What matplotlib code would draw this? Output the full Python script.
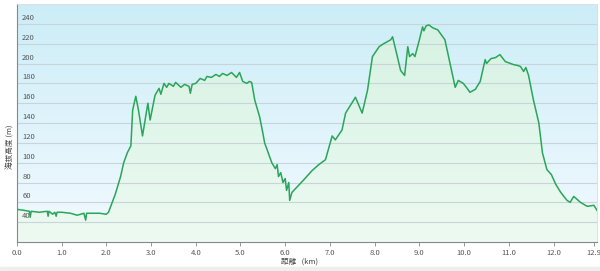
import numpy as np
import matplotlib.pyplot as plt
from matplotlib.patches import Rectangle

plt.rcParams['font.family'] = ['Noto Sans CJK JP', 'DejaVu Sans']

# distance (km) and elevation (m)
dist = [0.0, 0.15, 0.28, 0.3, 0.32, 0.5, 0.68, 0.7, 0.72, 0.8, 0.85, 0.88, 0.9, 1.0, 1.2, 1.35, 1.5,
        1.54, 1.56, 1.7, 1.85, 2.0, 2.05, 2.2, 2.32, 2.39, 2.47, 2.55, 2.59, 2.66, 2.72, 2.81, 2.93, 2.98,
        3.09, 3.18, 3.22, 3.29, 3.35, 3.4, 3.5, 3.55, 3.67, 3.75, 3.85, 3.88, 3.92, 4.0, 4.1, 4.2, 4.25,
        4.35, 4.45, 4.53, 4.6, 4.7, 4.8, 4.91, 4.98, 5.05, 5.14, 5.2, 5.25, 5.32, 5.43,
        5.5, 5.54, 5.7, 5.78, 5.82, 5.85, 5.9, 5.95, 6.0, 6.03, 6.08, 6.1, 6.15, 6.4, 6.6, 6.75, 6.9,
        7.05, 7.12, 7.27, 7.35, 7.57, 7.72, 7.84, 7.95, 8.1, 8.2, 8.36, 8.4, 8.47, 8.58, 8.67, 8.74,
        8.78, 8.85, 8.9, 9.0, 9.07, 9.1, 9.15, 9.21, 9.3, 9.41,
        9.57, 9.7, 9.8, 9.87, 9.98, 10.05, 10.13, 10.25, 10.36, 10.47, 10.5, 10.6, 10.7, 10.8, 10.92,
        11.1, 11.2, 11.26, 11.33, 11.38, 11.44, 11.55, 11.67, 11.75, 11.85, 11.95, 12.05, 12.16, 12.3,
        12.37, 12.45, 12.5, 12.6, 12.75, 12.9, 12.97]
elev = [53, 52, 51, 45, 51, 50, 51, 46, 51, 48, 50, 46, 50, 50, 49, 47, 49,
        42, 49, 49, 49, 48, 50, 68, 86, 100, 110, 117, 153, 167, 153, 127, 160, 143,
        168, 175, 169, 180, 176, 180, 177, 181, 176, 179, 177, 170, 179, 180, 185, 183, 187,
        186, 189, 187, 190, 188, 191, 186, 191, 182, 180, 182, 181, 163, 146,
        130, 120, 100, 94, 98, 86, 90, 80, 84, 72, 80, 62, 70, 82, 92, 98, 103,
        127, 123, 133, 150, 166, 150, 173, 207, 217, 220, 224, 227, 214, 193, 188, 217,
        207, 210, 207, 224, 237, 233, 238, 239, 236, 234,
        224, 197, 176, 183, 180, 176, 171, 174, 182, 204, 200, 205, 206, 209, 202,
        199, 198, 197, 192, 196, 188, 163, 140, 110, 93, 88, 78, 70, 62,
        60, 66, 64, 60, 56, 57, 52]

xticks = [0, 1, 2, 3, 4, 5, 6, 7, 8, 9, 10, 11, 12, 12.9]
yticks = [40, 60, 80, 100, 120, 140, 160, 180, 200, 220, 240]

fig = plt.figure(figsize=(6, 2.71), dpi=100)
fig.patches.append(Rectangle((0, 0), 1, 0.016, transform=fig.transFigure, color='#eeeeee'))
ax = fig.add_axes([0.028, 0.107, 0.967, 0.878])
ax.set_xlim(0, 12.97)
ax.set_ylim(20, 260)

# sky gradient background
grad = np.linspace(0, 1, 256).reshape(-1, 1)
top = np.array([0.80, 0.93, 0.97])
bot = np.array([0.95, 0.98, 1.0])
bg = bot + (top - bot) * grad
ax.imshow(bg[:, None, :].repeat(2, axis=1), extent=[0, 12.97, 20, 260], origin='lower',
          aspect='auto', zorder=0)

# green gradient under the line
fill = ax.fill_between(dist, elev, 20, color='none', zorder=1)
gtop = np.array([0.84, 0.95, 0.89])
gbot = np.array([0.93, 0.98, 0.95])
gimg = gbot + (gtop - gbot) * grad
im = ax.imshow(gimg[:, None, :].repeat(2, axis=1), extent=[0, 12.97, 20, 240], origin='lower',
               aspect='auto', zorder=1)
im.set_clip_path(fill.get_paths()[0], transform=ax.transData)

for y in yticks:
    ax.axhline(y, color='#c8d4da', lw=0.8, zorder=2)
    ax.text(0.12, y + 2, str(y), fontsize=5.5, color='#555555', va='bottom', ha='left', zorder=3)

ax.plot(dist, elev, color='#2aa55a', lw=1.1, zorder=4)

ax.set_yticks([])
ax.set_xticks(xticks)
ax.set_xticklabels(['%.1f' % t for t in xticks], fontsize=5.5, color='#555555')
ax.tick_params(axis='x', length=3, width=0.6, color='#888888', pad=2)
for s in ['top', 'right']:
    ax.spines[s].set_color('#dddddd')
    ax.spines[s].set_linewidth(0.6)
for s in ['left', 'bottom']:
    ax.spines[s].set_color('#888888')
    ax.spines[s].set_linewidth(0.8)

fig.text(0.017, 0.46, '海拔高度 (m)', rotation=90, fontsize=5.5, color='#444444',
         ha='center', va='center')
fig.text(0.5, 0.033, '距離   (km)', fontsize=5.5, color='#444444', ha='center', va='center')

fig.savefig('out.png', dpi=100)
